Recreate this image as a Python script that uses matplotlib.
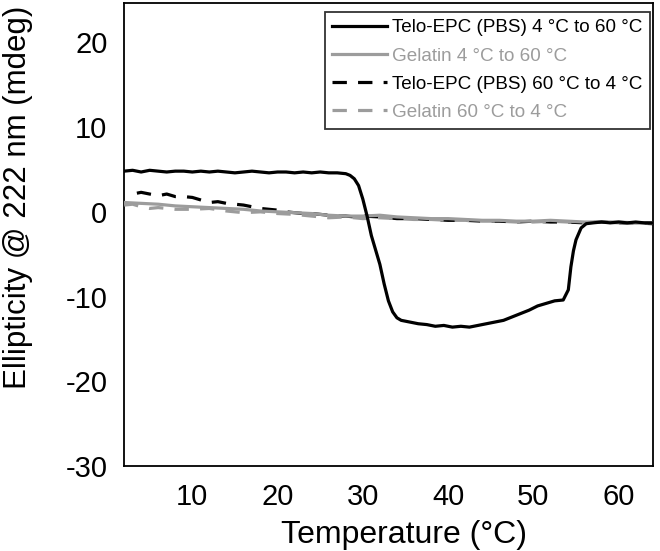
import matplotlib
matplotlib.use('Agg')
import matplotlib.pyplot as plt

plt.rcParams['font.family'] = ['Liberation Sans', 'DejaVu Sans']
plt.rcParams['axes.unicode_minus'] = False

# Telo-EPC (PBS) heating 4 -> 60 C
t_epc_heat = [2, 3, 4, 5, 6, 7, 8, 9, 10, 11, 12, 13, 14, 15, 16, 17, 18, 19, 20,
              21, 22, 23, 24, 25, 26, 27, 28, 28.5, 29, 29.5, 30, 30.5, 31, 31.5,
              32, 32.5, 33, 33.5, 34, 34.5, 35.5, 36.5, 37.5, 38.5, 39.5, 40.5,
              41.5, 42.5, 43.5, 44.5, 45.5, 46.5, 47.5, 48.5, 49.5, 50.5, 51.5,
              52.5, 53.5, 54.1, 54.4, 54.7, 55, 55.6, 56.2, 57, 58, 59, 60, 61,
              62, 63, 64]
e_epc_heat = [4.8, 4.9, 4.7, 4.9, 4.8, 4.7, 4.8, 4.8, 4.7, 4.8, 4.7, 4.8, 4.7,
              4.6, 4.7, 4.8, 4.7, 4.6, 4.7, 4.7, 4.6, 4.7, 4.6, 4.7, 4.6, 4.6,
              4.5, 4.3, 3.9, 3.1, 1.5, -0.5, -2.8, -4.5, -6.2, -8.5, -10.5,
              -11.8, -12.5, -12.8, -13.0, -13.2, -13.3, -13.5, -13.4, -13.6,
              -13.5, -13.6, -13.4, -13.2, -13.0, -12.8, -12.4, -12.0, -11.6,
              -11.1, -10.8, -10.5, -10.4, -9.2, -6.5, -4.6, -3.3, -1.9, -1.4,
              -1.3, -1.2, -1.3, -1.2, -1.3, -1.2, -1.3, -1.3]

# Gelatin heating 4 -> 60 C
t_gel_heat = [2, 4, 6, 8, 10, 12, 14, 16, 18, 20, 22, 24, 26, 28, 30, 32, 34,
              36, 38, 40, 42, 44, 46, 48, 50, 52, 54, 56, 58, 60, 62, 64]
e_gel_heat = [1.1, 1.0, 0.9, 0.7, 0.6, 0.5, 0.4, 0.3, 0.1, 0.0, -0.1, -0.2,
              -0.4, -0.5, -0.5, -0.4, -0.6, -0.7, -0.8, -0.8, -0.9, -1.0, -1.0,
              -1.1, -1.1, -1.0, -1.1, -1.2, -1.2, -1.2, -1.3, -1.3]

# Telo-EPC (PBS) cooling 60 -> 4 C
t_epc_cool = [3.5, 4, 5, 6, 7, 8, 9, 10, 11, 12, 13, 14, 15, 16, 17, 18, 19,
              20, 21, 22, 23, 24, 25, 26, 27, 28, 29, 30, 32, 34, 36, 38, 40,
              42, 44, 46, 48, 50, 52, 54, 56, 58, 60, 62, 64]
e_epc_cool = [2.2, 2.3, 2.1, 1.9, 2.1, 1.8, 1.8, 1.7, 1.4, 1.1, 1.2, 1.0, 0.9,
              0.8, 0.6, 0.4, 0.3, 0.2, 0.0, -0.1, -0.2, -0.2, -0.3, -0.4, -0.5,
              -0.5, -0.6, -0.5, -0.6, -0.8, -0.8, -0.9, -1.0, -1.0, -1.1, -1.1,
              -1.2, -1.1, -1.2, -1.2, -1.3, -1.2, -1.3, -1.3, -1.4]

# Gelatin cooling 60 -> 4 C
t_gel_cool = [2, 3, 4, 5, 6, 8, 10, 12, 14, 16, 18, 20, 22, 24, 26, 28, 30,
              32, 34, 36, 38, 40, 42, 44, 46, 48, 50, 52, 54, 56, 58, 60, 62, 64]
e_gel_cool = [0.8, 0.9, 0.6, 0.4, 0.5, 0.3, 0.3, 0.4, 0.1, -0.1, 0.0, -0.2,
              -0.3, -0.5, -0.7, -0.6, -0.8, -0.7, -0.8, -0.9, -0.9, -1.0, -1.0,
              -1.1, -1.1, -1.2, -1.2, -1.1, -1.2, -1.3, -1.2, -1.3, -1.3, -1.3]

grey = '#9c9c9c'

fig = plt.figure(figsize=(6.6, 5.51), dpi=100)
ax = fig.add_axes([0.188, 0.154, 0.801, 0.840])

l1, = ax.plot(t_epc_heat, e_epc_heat, color='black', lw=2.3,
              label='Telo-EPC (PBS) 4 °C to 60 °C', zorder=5)
l2, = ax.plot(t_gel_heat, e_gel_heat, color=grey, lw=2.3,
              label='Gelatin 4 °C to 60 °C', zorder=4)
l3, = ax.plot(t_epc_cool, e_epc_cool, color='black', lw=2.3, dashes=(4.5, 3.5),
              label='Telo-EPC (PBS) 60 °C to 4 °C', zorder=2)
l4, = ax.plot(t_gel_cool, e_gel_cool, color=grey, lw=2.3, dashes=(4.5, 3.5),
              label='Gelatin 60 °C to 4 °C', zorder=3)

ax.set_xlim(2, 64)
ax.set_ylim(-30, 24.6)
ax.set_xticks([10, 20, 30, 40, 50, 60])
ax.set_yticks([-30, -20, -10, 0, 10, 20])
ax.tick_params(length=0, labelsize=21, pad=12)
for s in ax.spines.values():
    s.set_linewidth(1.3)

ax.set_xlabel('Temperature (°C)', fontsize=23)
ax.xaxis.set_label_coords(0.53, -0.117)
ax.set_ylabel('Ellipticity @ 222 nm (mdeg)', fontsize=22.5)
ax.yaxis.set_label_coords(-0.172, 0.58)

leg = ax.legend(handles=[l1, l2, l3, l4], loc='upper right',
                bbox_to_anchor=(0.995, 0.982), fontsize=13.6, frameon=True,
                fancybox=False, edgecolor='black', handlelength=2.9,
                handletextpad=0.27, labelspacing=0.58, borderpad=0.4,
                borderaxespad=0)
leg.get_frame().set_linewidth(1.3)
for txt, ln in zip(leg.get_texts(), [l1, l2, l3, l4]):
    txt.set_color(ln.get_color())

fig.savefig('out.png', dpi=100)
